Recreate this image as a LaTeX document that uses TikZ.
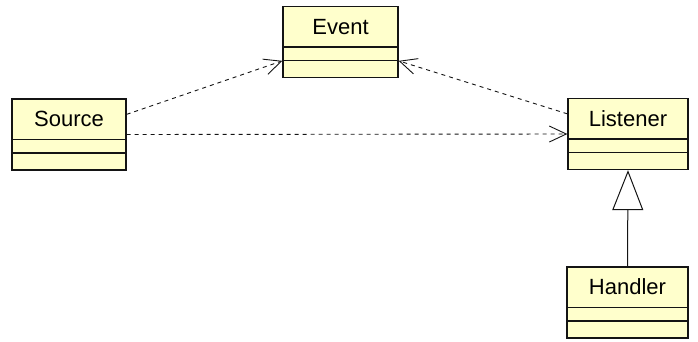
\documentclass[tikz,border=0pt]{standalone}
\usepackage{fontspec}
\setmainfont{Liberation Sans}
\usetikzlibrary{arrows.meta}
\definecolor{clsfill}{RGB}{255,255,204}
\definecolor{clsline}{RGB}{20,20,20}
\begin{document}
\begin{tikzpicture}[x=1pt,y=-1pt,
  clsbox/.style={draw=clsline, fill=clsfill, line width=1.3pt, rectangle, inner sep=0pt, minimum height=71pt},
  clsname/.style={font=\fontsize{22}{24}\selectfont, text height=16pt, text depth=0pt, inner sep=0pt},
  depline/.style={draw=clsline, line width=0.9pt, dash pattern=on 4pt off 4pt, -{Straight Barb[length=17pt,width=16pt,line width=0.9pt]}},
  genline/.style={draw=clsline, line width=1pt, -{Triangle[open, length=40pt, width=31pt, line width=1pt]}}
]
\useasboundingbox (0,0) rectangle (698,341);
% classes
\node[clsbox, minimum width=114pt] (src) at (69,134.5) {};
\node[clsbox, minimum width=115pt] (evt) at (340.5,42) {};
\node[clsbox, minimum width=120pt] (lis) at (628,134) {};
\node[clsbox, minimum width=121pt] (hdl) at (627.5,302.5) {};
% compartments
\foreach \c in {src,evt,lis,hdl}{
  \draw[draw=clsline, line width=1.3pt] ([yshift=-41pt]\c.north west) -- ([yshift=-41pt]\c.north east);
  \draw[draw=clsline, line width=1.3pt] ([yshift=-54.5pt]\c.north west) -- ([yshift=-54.5pt]\c.north east);
}
% names
\node[clsname] (srcn) at ([yshift=-20.5pt]src.north) {Source};
\node[clsname] (evtn) at ([yshift=-20.5pt]evt.north) {Event};
\node[clsname] (lisn) at ([yshift=-20.5pt]lis.north) {Listener};
\node[clsname] (hdln) at ([yshift=-20.5pt]hdl.north) {Handler};
% connectors
\draw[depline] ([yshift=-16pt]src.north east) -- ([yshift=-55pt]evt.north west);
\draw[depline] (src.east) -- (lis.west);
\draw[depline] ([yshift=-16pt]lis.north west) -- ([yshift=-55pt]evt.north east);
\draw[genline] (hdl.north) -- (lis.south);
\end{tikzpicture}
\end{document}
